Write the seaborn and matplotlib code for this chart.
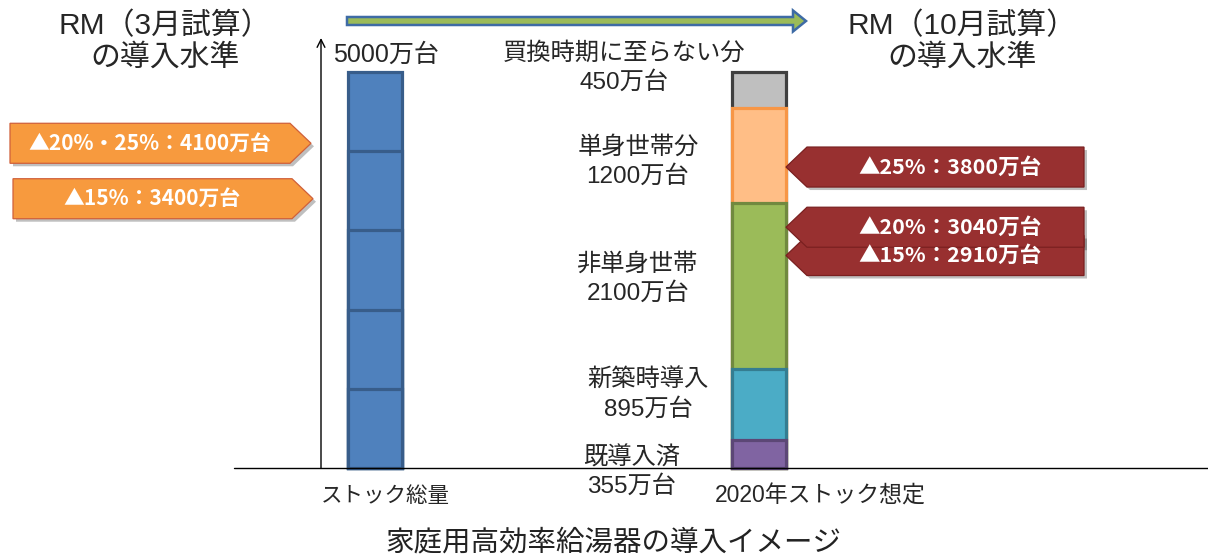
import matplotlib
matplotlib.use("Agg")
import matplotlib.pyplot as plt
from matplotlib.patches import Polygon, FancyArrow
import seaborn as sns
import pandas as pd

# ---------------- data ----------------
categories = ['ストック総量', '2020年ストック想定']
stock_segments = [1000, 1000, 1000, 1000, 1000]          # ストック総量 5000万台
stock_total_label = '5000万台'
segment_names = ['既導入済', '新築時導入', '非単身世帯', '単身世帯分', '買換時期に至らない分']
segment_values = [355, 895, 2100, 1200, 450]              # 万台
march_labels = ['▲20%・25%：4100万台', '▲15%：3400万台']
march_values = [4100, 3400]
october_labels = ['▲15%：2910万台', '▲25%：3800万台', '▲20%：3040万台']
october_values = [2910, 3800, 3040]
title_left = 'RM（3月試算）\nの導入水準'
title_right = 'RM（10月試算）\nの導入水準'
caption = '家庭用高効率給湯器の導入イメージ'

# ---------------- style ----------------
sns.set_theme(style='white')
FONT = ['Liberation Sans', 'Noto Sans CJK JP', 'DejaVu Sans']
plt.rcParams['font.family'] = FONT
CALLOUT_FONT = ['Noto Sans CJK JP', 'DejaVu Sans']

stock_face, stock_edge = '#4F81BD', '#385D8A'
seg_faces = ['#8064A2', '#4BACC6', '#9BBB59', '#FFBE86', '#BFBFBF']
seg_edges = ['#5C4776', '#357D91', '#71893F', '#F79646', '#3F3F3F']
orange, orange_edge = '#F79A3E', '#D0603A'
darkred, darkred_edge = '#983030', '#7A2020'

W, H = 1208, 559
fig = plt.figure(figsize=(W / 100, H / 100), dpi=100)
ax = fig.add_axes([0, 0, 1, 1])

# pixel <-> data helpers (layout only)
XS = 384.0          # px per category step
X0PX = 375.0        # px of first category
YS = 5000 / 396.0   # data units per px
Y0PX = 468.0        # px (from top) of zero line
def dx(px):
    return (px - X0PX) / XS
def dy(py):
    return (Y0PX - py) * YS
def ddx(px):
    return px / XS
def ddy(py):
    return py * YS

BAR_W = 54 / XS
LW = 2.3

# ---- left bar: stack of equal blocks (cumulative overlay) ----
cum = []
s = 0
for v in stock_segments:
    s += v
    cum.append(s)
for total in reversed(cum):
    df = pd.DataFrame({'cat': [categories[0]], 'val': [total]})
    sns.barplot(data=df, x='cat', y='val', order=categories, color=stock_face,
                saturation=1, width=BAR_W, edgecolor=stock_edge, linewidth=LW,
                errorbar=None, ax=ax)

# ---- right bar: stacked segments ----
cum = []
s = 0
for v in segment_values:
    s += v
    cum.append(s)
for i in reversed(range(len(segment_values))):
    df = pd.DataFrame({'cat': [categories[1]], 'val': [cum[i]]})
    sns.barplot(data=df, x='cat', y='val', order=categories, color=seg_faces[i],
                saturation=1, width=BAR_W, edgecolor=seg_edges[i], linewidth=LW,
                errorbar=None, ax=ax)

# ---- axis lines ----
ax.plot([dx(234), dx(1208)], [0, 0], color='black', lw=1.0, zorder=1)
ax.annotate('', xy=(dx(321), dy(38)), xytext=(dx(321), 0),
            arrowprops=dict(arrowstyle='->', color='black', lw=1.0,
                            mutation_scale=14, shrinkA=0, shrinkB=0))
ax.text(dx(333), dy(55), stock_total_label, fontsize=18, ha='left', va='center')

# ---- top arrow ----
arr = FancyArrow(dx(347), dy(21), dx(806) - dx(347), 0, width=ddy(8),
                 head_width=ddy(21), head_length=ddx(13), length_includes_head=True,
                 facecolor='#9BBB59', edgecolor='#3E6BA5', lw=1.8, zorder=3)
ax.add_patch(arr)

# ---- titles ----
ax.text(dx(165), dy(42), title_left, fontsize=21.5, ha='center', va='center',
        linespacing=1.15)
ax.text(dx(962), dy(42), title_right, fontsize=21.5, ha='center', va='center',
        linespacing=1.15)

# ---- segment labels ----
label_pos = [(632, 472), (648, 395), (638, 279), (638, 162), (624, 68)]
for name, val, (px, py) in zip(segment_names, segment_values, label_pos):
    ax.text(dx(px), dy(py), f'{name}\n{val}万台', fontsize=17.5, ha='center',
            va='center', linespacing=1.35)

# ---- category labels ----
ax.text(dx(385), dy(496), categories[0], fontsize=15.5, ha='center', va='center')
ax.text(dx(820), dy(496), categories[1], fontsize=16.5, ha='center', va='center')
ax.text(dx(614), dy(543), caption, fontsize=20.5, ha='center', va='center',
        color='#222222')

# ---- callouts ----
HH = 20    # half height px
TIP = 21   # tip length px

def callout(y, tip_px, far_px, text, face, edge, pointing, fs, yoff_px=0):
    yc = y - ddy(yoff_px)
    h = ddy(HH)
    if pointing == 'right':
        xt, xb, xf = dx(tip_px), dx(tip_px - TIP), dx(far_px)
    else:
        xt, xb, xf = dx(tip_px), dx(tip_px + TIP), dx(far_px)
    pts = [(xf, yc - h), (xb, yc - h), (xt, yc), (xb, yc + h), (xf, yc + h)]
    sh = [(px_ + ddx(3), py_ - ddy(3)) for px_, py_ in pts]
    ax.add_patch(Polygon(sh, closed=True, facecolor='#000000', alpha=0.25,
                         edgecolor='none', zorder=4))
    ax.add_patch(Polygon(pts, closed=True, facecolor=face, edgecolor=edge,
                         lw=0.9, zorder=5))
    xm = (xf + xb) / 2 if pointing == 'right' else (xb + xf) / 2 + ddx(4)
    ax.text(xm, yc, text, fontsize=fs, fontweight='bold', color='white',
            ha='center', va='center', zorder=6, family=CALLOUT_FONT)

march_geom = [(311, 10), (313, 13)]
for val, lab, (tip, far) in zip(march_values, march_labels, march_geom):
    callout(val, tip, far, lab, orange, orange_edge, 'right', 15)

october_offsets = [18, 0, 0]
for val, lab, off in zip(october_values, october_labels, october_offsets):
    callout(val, 786, 1084, lab, darkred, darkred_edge, 'left', 15.5, yoff_px=off)

ax.set_xlim(dx(0), dx(W))
ax.set_ylim(dy(H), dy(0))
ax.axis('off')

fig.savefig('out.png', dpi=100)
